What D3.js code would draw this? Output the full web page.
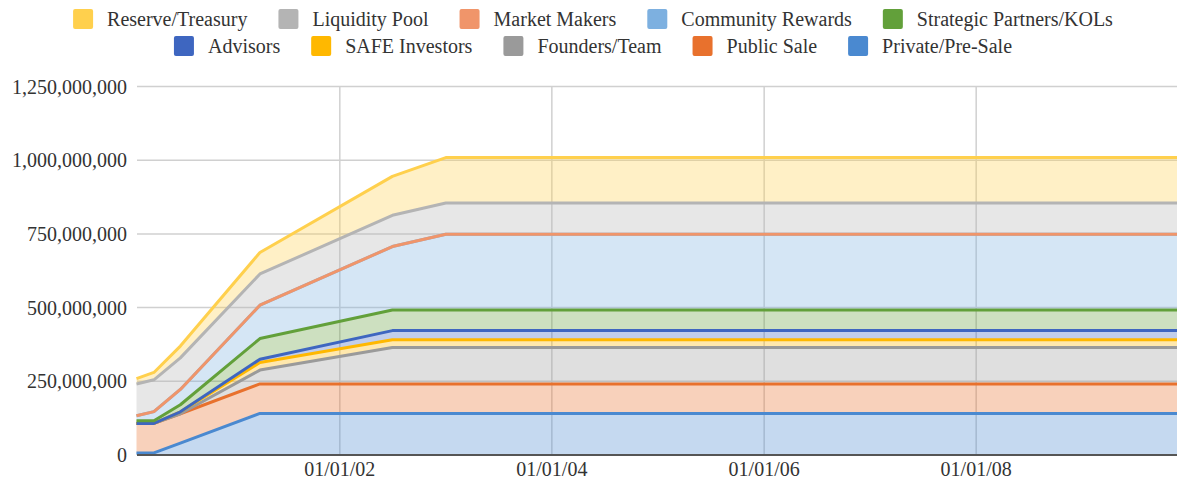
<!DOCTYPE html>
<html>
<head>
<meta charset="utf-8">
<script src="https://cdn.jsdelivr.net/npm/d3@7"></script>
<style>
  body { margin: 0; background: #fff; }
  svg { display: block; font-family: "Liberation Serif", "Times New Roman", serif; }
</style>
</head>
<body>
<svg id="chart" width="1177" height="488"></svg>
<script>
// x positions of the vesting steps (dates), millions of tokens per series
const dates = ["2000-02-01", "2000-04-01", "2000-07-01", "2001-04-01", "2002-07-01", "2003-01-01", "2009-12-01"];

const privateSale = [7, 7, 40, 141, 141, 141, 141];
const publicSale = [100, 100, 100, 100, 100, 100, 100];
const founders = [0, 0, 0, 47, 124, 124, 124];
const safeInvestors = [0, 0, 6.5, 26, 26, 26, 26];
const advisors = [0, 0, 0, 11, 31, 31, 31];
const strategic = [9, 9, 24, 70, 70, 70, 70];
const community = [17, 31, 52, 113, 215, 257, 257];
const marketMakers = [0, 0, 0, 0, 0, 0, 0];
const liquidity = [108, 108, 107, 106, 106, 106, 106];
const reserve = [18, 25, 40, 73, 132, 154, 154];

// bottom of the stack first
const seriesNames = ["Private/Pre-Sale", "Public Sale", "Founders/Team", "SAFE Investors", "Advisors",
  "Strategic Partners/KOLs", "Community Rewards", "Market Makers", "Liquidity Pool", "Reserve/Treasury"];
const seriesValues = [privateSale, publicSale, founders, safeInvestors, advisors,
  strategic, community, marketMakers, liquidity, reserve];
const seriesColors = ["#4a89d0", "#e8712d", "#9a9a9a", "#ffb800", "#3e66c0",
  "#62a03a", "#7db0e0", "#f0956a", "#b4b4b4", "#ffd04d"];

// legend rows as they appear (top of stack first)
const legendRows = [
  ["Reserve/Treasury", "Liquidity Pool", "Market Makers", "Community Rewards", "Strategic Partners/KOLs"],
  ["Advisors", "SAFE Investors", "Founders/Team", "Public Sale", "Private/Pre-Sale"]
];

const yTicks = [0, 250e6, 500e6, 750e6, 1000e6, 1250e6];

const parse = d3.timeParse("%Y-%m-%d");
const rows = dates.map((d, i) => {
  const r = { date: parse(d) };
  seriesNames.forEach((name, k) => { r[name] = seriesValues[k][i] * 1e6; });
  return r;
});

const svg = d3.select("#chart");
const colorOf = d3.scaleOrdinal().domain(seriesNames).range(seriesColors);

const x = d3.scaleTime()
  .domain(d3.extent(rows, d => d.date))
  .range([136.5, 1179.5]);
const y = d3.scaleLinear()
  .domain([0, 1250e6])
  .range([455, 86.5]);

// grid
const grid = svg.append("g");
grid.selectAll("line.h")
  .data(yTicks.filter(t => t > 0))
  .join("line")
  .attr("class", "h")
  .attr("x1", 137).attr("x2", 1177)
  .attr("y1", d => y(d)).attr("y2", d => y(d))
  .attr("stroke", "#d0d0d0").attr("stroke-width", 1.5);

const xTicks = x.ticks(d3.timeYear.every(2));
grid.selectAll("line.v")
  .data(xTicks)
  .join("line")
  .attr("class", "v")
  .attr("x1", d => x(d)).attr("x2", d => x(d))
  .attr("y1", y(1250e6)).attr("y2", 455)
  .attr("stroke", "#d0d0d0").attr("stroke-width", 1.5);

// stacked areas
const stacked = d3.stack().keys(seriesNames)(rows);

const area = d3.area()
  .x(d => x(d.data.date))
  .y0(d => y(d[0]))
  .y1(d => y(d[1]));
const line = d3.line()
  .x(d => x(d.data.date))
  .y(d => y(d[1]));

svg.append("g").selectAll("path")
  .data(stacked)
  .join("path")
  .attr("d", area)
  .attr("fill", d => colorOf(d.key))
  .attr("fill-opacity", 0.32);

svg.append("g").selectAll("path")
  .data(stacked)
  .join("path")
  .attr("d", line)
  .attr("fill", "none")
  .attr("stroke", d => colorOf(d.key))
  .attr("stroke-width", 3)
  .attr("stroke-linejoin", "round");

// baseline
svg.append("line")
  .attr("x1", 137).attr("x2", 1177)
  .attr("y1", y(0)).attr("y2", y(0))
  .attr("stroke", "#555").attr("stroke-width", 2);

// y axis labels
const fmt = d3.format(",");
svg.append("g").selectAll("text")
  .data(yTicks)
  .join("text")
  .attr("x", 127)
  .attr("y", d => y(d))
  .attr("dy", "0.35em")
  .attr("text-anchor", "end")
  .attr("font-size", 20)
  .attr("fill", "#333")
  .text(d => fmt(d));

// x axis labels
const dateFmt = d3.timeFormat("%m/%d/%y");
svg.append("g").selectAll("text")
  .data(xTicks)
  .join("text")
  .attr("x", d => x(d))
  .attr("y", 469)
  .attr("dy", "0.35em")
  .attr("text-anchor", "middle")
  .attr("font-size", 20)
  .attr("fill", "#333")
  .text(d => dateFmt(d));

// legend, each row centred
const legendY = [19, 46];
const gap = 31;
legendRows.forEach((names, r) => {
  const g = svg.append("g");
  let cx = 0;
  names.forEach(name => {
    const item = g.append("g").attr("transform", `translate(${cx},0)`);
    item.append("rect")
      .attr("x", 0).attr("y", legendY[r] - 10)
      .attr("width", 20).attr("height", 20)
      .attr("rx", 2)
      .attr("fill", colorOf(name));
    const t = item.append("text")
      .attr("x", 34).attr("y", legendY[r])
      .attr("dy", "0.35em")
      .attr("font-size", 20)
      .attr("fill", "#333")
      .text(name);
    cx += 34 + t.node().getComputedTextLength() + gap;
  });
  const w = cx - gap;
  g.attr("transform", `translate(${593 - w / 2},0)`);
});
</script>
</body>
</html>
